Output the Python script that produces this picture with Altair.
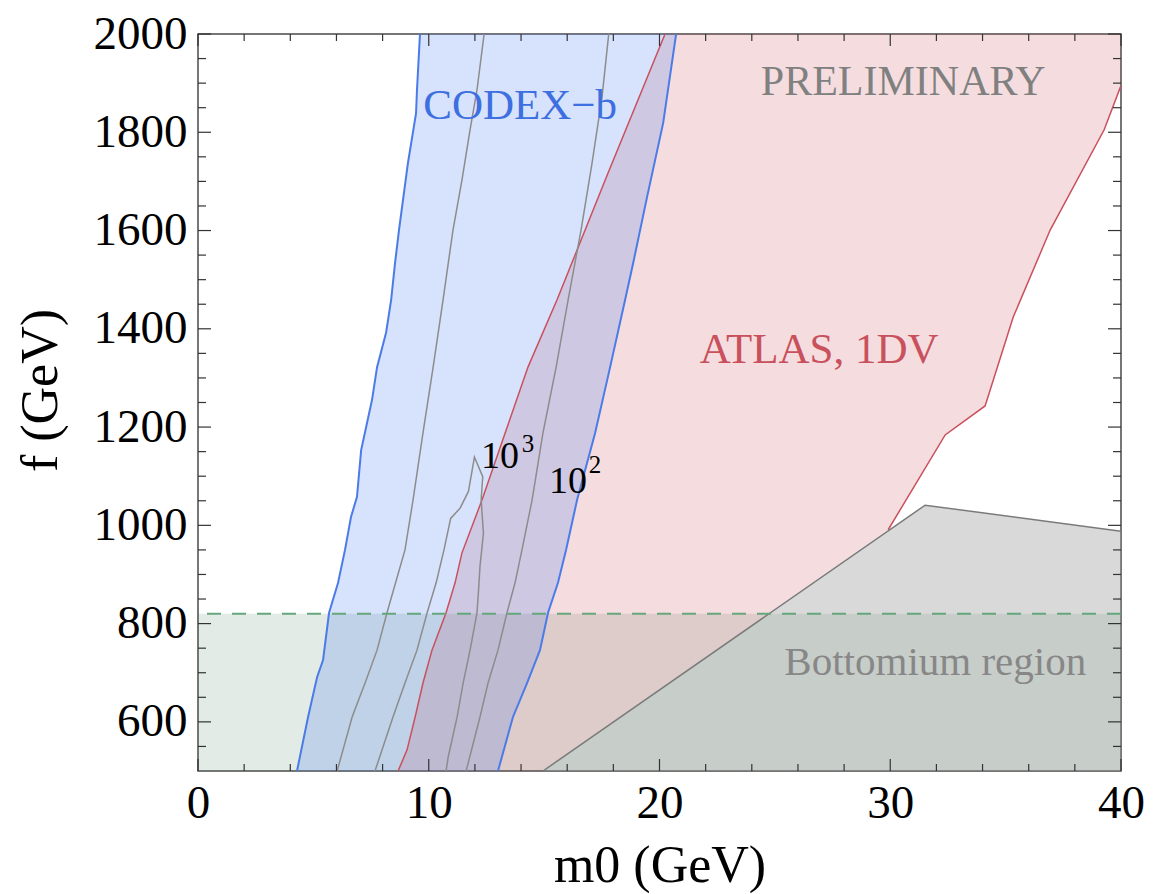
import altair as alt
import pandas as pd

# ---- CODEX-b sensitivity band (m0, f in GeV) ----
codex_left_m0 = [4.29, 4.77, 5.16, 5.42, 5.68, 6.07, 6.37, 6.63, 6.89, 7.07, 7.54,
                 7.76, 8.15, 8.37, 8.54, 8.71, 9.10, 9.45, 9.49, 9.62]
codex_left_f = [500, 610, 691, 726, 822, 883, 950, 1017, 1058, 1153, 1255,
                1322, 1392, 1459, 1534, 1601, 1738, 1839, 1886, 2000]
codex_right_m0 = [13.00, 13.65, 14.26, 14.82, 15.17, 15.60, 15.95, 16.43, 17.21,
                  17.86, 18.51, 18.86, 19.46, 20.16, 20.72]
codex_right_f = [500, 610, 679, 746, 822, 883, 950, 1052, 1188,
                 1322, 1459, 1534, 1668, 1819, 2000]

# ---- event-count contours inside the CODEX-b band ----
contour_outer_m0 = [6.03, 6.68, 7.24, 7.76, 8.19, 8.97, 9.32, 9.75, 10.19, 10.62,
                    11.05, 11.44, 11.79, 12.09, 12.40]
contour_outer_f = [500, 610, 679, 746, 822, 950, 1052, 1188, 1322, 1459,
                   1601, 1703, 1805, 1886, 2000]
contour_1e3_m0 = [7.67, 8.45, 8.97, 9.49, 9.93, 10.32, 10.66, 10.95, 11.36, 11.72,
                  11.98, 12.34, 12.27, 12.37, 12.22, 12.15, 12.09, 11.79, 11.49,
                  11.23, 10.84, 10.75]
contour_1e3_f = [500, 610, 679, 746, 822, 883, 950, 1014, 1035, 1069,
                 1139, 1099, 1052, 984, 916, 862, 822, 746, 679,
                 610, 528, 500]
contour_1e2_m0 = [11.62, 12.22, 12.57, 13.00, 13.39, 13.74, 14.04, 14.48, 14.95,
                  15.52, 16.04, 16.60, 17.08, 17.51, 17.80]
contour_1e2_f = [500, 610, 679, 746, 822, 883, 950, 1052, 1188,
                 1322, 1459, 1601, 1738, 1872, 2000]

# ---- ATLAS 1DV exclusion ----
atlas_left_m0 = [8.67, 9.06, 9.41, 9.75, 10.14, 10.75, 11.14, 11.44, 12.31, 13.31,
                 14.30, 15.56, 17.77, 20.24]
atlas_left_f = [500, 543, 610, 679, 746, 822, 883, 944, 1052, 1188,
                1322, 1459, 1717, 2000]
atlas_right_m0 = [40.0, 40.0, 39.27, 36.93, 35.33, 34.11, 32.38, 29.91]
atlas_right_f = [2000, 1895, 1805, 1601, 1424, 1243, 1184, 991]

# ---- gray excluded region ----
gray_edge_m0 = [14.95, 31.51, 40.0]
gray_edge_f = [500, 1041, 988]
gray_corner = (40.0, 500)

# ---- Bottomium region upper edge ----
bottomium_f = 820

# ---- axis ticks ----
x_major = [0, 10, 20, 30, 40]
x_minor = [v for v in range(0, 41, 2) if v % 10 != 0]
y_major = list(range(600, 2001, 200))
y_minor = [v for v in range(550, 2001, 50) if v % 200 != 0]

W, H = 923, 737
FONT = "Liberation Serif"

xs = alt.Scale(domain=[0, 40], nice=False, zero=False)
ys = alt.Scale(domain=[500, 2000], nice=False, zero=False)

x_axis = alt.Axis(values=x_major, format="d", tickSize=0, domain=False, grid=False,
                  labelFont=FONT, labelFontSize=47, labelColor="black",
                  labelPadding=9, labelFlush=False, title="m0 (GeV)",
                  titleFont=FONT, titleFontSize=52, titleFontWeight="normal",
                  titleColor="black", titleY=110, titleBaseline="alphabetic")
y_axis = alt.Axis(values=y_major, format="d", tickSize=0, domain=False, grid=False,
                  labelFont=FONT, labelFontSize=47, labelColor="black",
                  labelPadding=11, labelFlush=False, title="f (GeV)",
                  titleFont=FONT, titleFontSize=52, titleFontWeight="normal",
                  titleColor="black", titleX=-158, titleY=356,
                  titleBaseline="middle")


def X(axis=None):
    return alt.X("m0:Q", scale=xs, axis=axis)


def Y(axis=None):
    return alt.Y("f:Q", scale=ys, axis=axis)


def path_df(m0, f):
    return pd.DataFrame({"m0": m0, "f": f, "i": range(len(m0))})


def polygon(m0, f, fill, opacity):
    return alt.Chart(path_df(m0, f)).mark_line(
        fill=fill, fillOpacity=opacity, strokeOpacity=0, clip=True
    ).encode(x=X(), y=Y(), order="i:Q")


def curve(m0, f, color, width, dash=None):
    kw = dict(color=color, strokeWidth=width, clip=True)
    if dash:
        kw["strokeDash"] = dash
    return alt.Chart(path_df(m0, f)).mark_line(**kw).encode(
        x=X(), y=Y(), order="i:Q")


def label(text, m0, f, size, color):
    df = pd.DataFrame({"m0": [m0], "f": [f], "t": [text]})
    return alt.Chart(df).mark_text(
        font=FONT, fontSize=size, color=color, align="center",
        baseline="alphabetic"
    ).encode(x=X(), y=Y(), text="t:N")


TICK = dict(color="#333333", strokeWidth=1.2)


def xticks(values, length):
    df = pd.DataFrame({"m0": values})
    bottom = alt.Chart(df).mark_rule(**TICK).encode(
        x=X(), y=alt.value(H), y2=alt.value(H - length))
    top = alt.Chart(df).mark_rule(**TICK).encode(
        x=X(), y=alt.value(0), y2=alt.value(length))
    return [bottom, top]


def yticks(values, length):
    df = pd.DataFrame({"f": values})
    left = alt.Chart(df).mark_rule(**TICK).encode(
        y=Y(), x=alt.value(0), x2=alt.value(length))
    right = alt.Chart(df).mark_rule(**TICK).encode(
        y=Y(), x=alt.value(W), x2=alt.value(W - length))
    return [left, right]


# filled regions
atlas_poly_m0 = atlas_left_m0 + atlas_right_m0 + [gray_edge_m0[0]]
atlas_poly_f = atlas_left_f + atlas_right_f + [gray_edge_f[0]]
codex_poly_m0 = codex_left_m0 + codex_right_m0[::-1]
codex_poly_f = codex_left_f + codex_right_f[::-1]
gray_poly_m0 = gray_edge_m0 + [gray_corner[0]]
gray_poly_f = gray_edge_f + [gray_corner[1]]

# the Bottomium band carries the axes; all other layers draw without axes
bottom_df = pd.DataFrame({"m0": [0.0], "m0e": [40.0], "f": [500], "fe": [bottomium_f]})
bottomium = alt.Chart(bottom_df).mark_rect(color="#3a7a50", opacity=0.15).encode(
    x=X(x_axis), x2="m0e:Q", y=Y(y_axis), y2="fe:Q")

layers = [
    bottomium,
    polygon(atlas_poly_m0, atlas_poly_f, "#c8404f", 0.18),
    polygon(codex_poly_m0, codex_poly_f, "#5080f0", 0.23),
    polygon(gray_poly_m0, gray_poly_f, "#a0a0a0", 0.40),
    curve(atlas_left_m0, atlas_left_f, "#c9505d", 1.5),
    curve(atlas_right_m0[1:], atlas_right_f[1:], "#c9505d", 1.5),
    curve(codex_left_m0, codex_left_f, "#4b7be6", 2),
    curve(codex_right_m0, codex_right_f, "#4b7be6", 2),
    curve(contour_outer_m0, contour_outer_f, "#8c8c8c", 1.5),
    curve(contour_1e3_m0, contour_1e3_f, "#8c8c8c", 1.5),
    curve(contour_1e2_m0, contour_1e2_f, "#8c8c8c", 1.5),
    curve(gray_edge_m0, gray_edge_f, "#7a7a7a", 1.5),
    alt.Chart(pd.DataFrame({"f": [bottomium_f]})).mark_rule(
        color="#66a67b", strokeWidth=2, strokeDash=[14, 11]).encode(y=Y()),
    label("CODEX\u2212b", 13.96, 1827, 43, "#3d6fe0"),
    label("PRELIMINARY", 30.56, 1876, 42, "#808080"),
    label("ATLAS, 1DV", 26.92, 1330, 43, "#c9505d"),
    label("Bottomium region", 31.95, 695, 41, "#878787"),
    label("10", 13.09, 1117, 38, "black"),
    label("3", 14.30, 1149, 25, "black"),
    label("10", 16.04, 1066, 38, "black"),
    label("2", 17.21, 1107, 25, "black"),
]
layers += xticks(x_major, 12) + xticks(x_minor, 7)
layers += yticks(y_major, 13) + yticks(y_minor, 8)

chart = alt.layer(*layers).resolve_axis(
    x="independent", y="independent"
).properties(
    width=W, height=H,
    autosize=alt.AutoSizeParams(type="none"),
    padding={"left": 198, "top": 34, "right": 46, "bottom": 123},
    background="white",
).configure_view(stroke="#4a4a4a", strokeWidth=1.5)

chart.save("out.html", embed_options={"renderer": "svg", "actions": False})
